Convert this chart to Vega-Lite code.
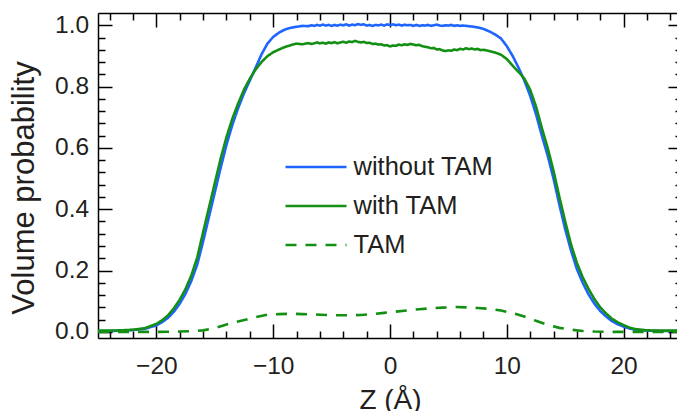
{
  "$schema": "https://vega.github.io/schema/vega-lite/v6.json",
  "autosize": "none",
  "width": 584,
  "height": 325,
  "padding": {"left": 98, "top": 13, "right": -5, "bottom": 73},
  "background": "white",
  "config": {
    "view": {"stroke": null},
    "font": "Liberation Sans",
    "axis": {
      "grid": false,
      "domainColor": "#000000",
      "tickColor": "#000000",
      "domainWidth": 1.5,
      "tickWidth": 1.5,
      "labelColor": "#231f20",
      "titleColor": "#231f20",
      "labelFont": "Liberation Sans",
      "titleFont": "Liberation Sans",
      "titleFontWeight": "normal"
    }
  },
  "data": {"values": [
    {"s":"without TAM","z":-25,"v":0.003},{"s":"without TAM","z":-24,"v":0.003},{"s":"without TAM","z":-23,"v":0.004},{"s":"without TAM","z":-22,"v":0.006},{"s":"without TAM","z":-21,"v":0.01},{"s":"without TAM","z":-20,"v":0.021},{"s":"without TAM","z":-19.5,"v":0.032},{"s":"without TAM","z":-19,"v":0.046},{"s":"without TAM","z":-18.5,"v":0.066},{"s":"without TAM","z":-18,"v":0.092},{"s":"without TAM","z":-17.5,"v":0.125},{"s":"without TAM","z":-17,"v":0.167},{"s":"without TAM","z":-16.5,"v":0.22},{"s":"without TAM","z":-16,"v":0.295},{"s":"without TAM","z":-15.5,"v":0.375},{"s":"without TAM","z":-15,"v":0.455},{"s":"without TAM","z":-14.5,"v":0.535},{"s":"without TAM","z":-14,"v":0.61},{"s":"without TAM","z":-13.5,"v":0.675},{"s":"without TAM","z":-13,"v":0.73},{"s":"without TAM","z":-12.5,"v":0.778},{"s":"without TAM","z":-12,"v":0.82},{"s":"without TAM","z":-11.5,"v":0.862},{"s":"without TAM","z":-11,"v":0.905},{"s":"without TAM","z":-10.5,"v":0.94},{"s":"without TAM","z":-10,"v":0.962},{"s":"without TAM","z":-9.5,"v":0.976},{"s":"without TAM","z":-9,"v":0.986},{"s":"without TAM","z":-8.5,"v":0.992},{"s":"without TAM","z":-8,"v":0.995},{"s":"without TAM","z":-7.5,"v":0.998},
    {"s":"without TAM","z":-7,"v":0.997},{"s":"without TAM","z":-6.75,"v":1.0},{"s":"without TAM","z":-6.5,"v":0.998},{"s":"without TAM","z":-6.25,"v":1.001},{"s":"without TAM","z":-6,"v":0.999},{"s":"without TAM","z":-5.75,"v":1.002},{"s":"without TAM","z":-5.5,"v":0.999},{"s":"without TAM","z":-5.25,"v":1.001},{"s":"without TAM","z":-5,"v":0.998},{"s":"without TAM","z":-4.75,"v":1.001},{"s":"without TAM","z":-4.5,"v":0.999},{"s":"without TAM","z":-4.25,"v":1.002},{"s":"without TAM","z":-4,"v":1.0},{"s":"without TAM","z":-3.75,"v":1.003},{"s":"without TAM","z":-3.5,"v":0.999},{"s":"without TAM","z":-3.25,"v":1.002},{"s":"without TAM","z":-3,"v":1.0},{"s":"without TAM","z":-2.75,"v":1.004},{"s":"without TAM","z":-2.5,"v":1.001},{"s":"without TAM","z":-2.25,"v":1.003},{"s":"without TAM","z":-2,"v":0.999},{"s":"without TAM","z":-1.75,"v":1.001},{"s":"without TAM","z":-1.5,"v":0.998},{"s":"without TAM","z":-1.25,"v":1.001},{"s":"without TAM","z":-1,"v":1.0},{"s":"without TAM","z":-0.75,"v":1.002},{"s":"without TAM","z":-0.5,"v":0.999},{"s":"without TAM","z":-0.25,"v":1.003},{"s":"without TAM","z":0,"v":1.001},{"s":"without TAM","z":0.25,"v":1.003},{"s":"without TAM","z":0.5,"v":1.0},{"s":"without TAM","z":0.75,"v":1.002},{"s":"without TAM","z":1,"v":0.999},{"s":"without TAM","z":1.25,"v":1.002},{"s":"without TAM","z":1.5,"v":1.0},{"s":"without TAM","z":1.75,"v":1.001},{"s":"without TAM","z":2,"v":0.998},{"s":"without TAM","z":2.25,"v":1.001},{"s":"without TAM","z":2.5,"v":0.998},{"s":"without TAM","z":2.75,"v":1.0},{"s":"without TAM","z":3,"v":0.999},{"s":"without TAM","z":3.25,"v":1.001},{"s":"without TAM","z":3.5,"v":0.998},{"s":"without TAM","z":3.75,"v":1.0},{"s":"without TAM","z":4,"v":1.002},{"s":"without TAM","z":4.25,"v":0.999},{"s":"without TAM","z":4.5,"v":0.998},{"s":"without TAM","z":4.75,"v":1.0},{"s":"without TAM","z":5,"v":0.999},{"s":"without TAM","z":5.25,"v":1.001},{"s":"without TAM","z":5.5,"v":0.998},{"s":"without TAM","z":5.75,"v":1.0},{"s":"without TAM","z":6,"v":0.998},{"s":"without TAM","z":6.25,"v":0.999},{"s":"without TAM","z":6.5,"v":0.998},{"s":"without TAM","z":6.75,"v":0.997},{"s":"without TAM","z":7,"v":0.996},
    {"s":"without TAM","z":7.5,"v":0.993},{"s":"without TAM","z":8,"v":0.988},{"s":"without TAM","z":8.5,"v":0.98},{"s":"without TAM","z":9,"v":0.97},{"s":"without TAM","z":9.5,"v":0.957},{"s":"without TAM","z":10,"v":0.932},{"s":"without TAM","z":10.5,"v":0.9},{"s":"without TAM","z":11,"v":0.862},{"s":"without TAM","z":11.5,"v":0.82},{"s":"without TAM","z":12,"v":0.77},{"s":"without TAM","z":12.5,"v":0.71},{"s":"without TAM","z":13,"v":0.64},{"s":"without TAM","z":13.5,"v":0.575},{"s":"without TAM","z":14,"v":0.5},{"s":"without TAM","z":14.5,"v":0.415},{"s":"without TAM","z":15,"v":0.335},{"s":"without TAM","z":15.5,"v":0.265},{"s":"without TAM","z":16,"v":0.205},{"s":"without TAM","z":16.5,"v":0.16},{"s":"without TAM","z":17,"v":0.122},{"s":"without TAM","z":17.5,"v":0.092},{"s":"without TAM","z":18,"v":0.068},{"s":"without TAM","z":18.5,"v":0.05},{"s":"without TAM","z":19,"v":0.035},{"s":"without TAM","z":19.5,"v":0.025},{"s":"without TAM","z":20,"v":0.017},{"s":"without TAM","z":20.5,"v":0.011},{"s":"without TAM","z":21,"v":0.007},{"s":"without TAM","z":22,"v":0.004},{"s":"without TAM","z":23,"v":0.003},{"s":"without TAM","z":24,"v":0.003},{"s":"without TAM","z":25,"v":0.003},
    {"s":"with TAM","z":-25,"v":0.004},{"s":"with TAM","z":-24,"v":0.004},{"s":"with TAM","z":-23,"v":0.005},{"s":"with TAM","z":-22,"v":0.007},{"s":"with TAM","z":-21,"v":0.012},{"s":"with TAM","z":-20,"v":0.026},{"s":"with TAM","z":-19.5,"v":0.038},{"s":"with TAM","z":-19,"v":0.054},{"s":"with TAM","z":-18.5,"v":0.077},{"s":"with TAM","z":-18,"v":0.105},{"s":"with TAM","z":-17.5,"v":0.14},{"s":"with TAM","z":-17,"v":0.185},{"s":"with TAM","z":-16.5,"v":0.243},{"s":"with TAM","z":-16,"v":0.325},{"s":"with TAM","z":-15.5,"v":0.405},{"s":"with TAM","z":-15,"v":0.485},{"s":"with TAM","z":-14.5,"v":0.565},{"s":"with TAM","z":-14,"v":0.635},{"s":"with TAM","z":-13.5,"v":0.695},{"s":"with TAM","z":-13,"v":0.745},{"s":"with TAM","z":-12.5,"v":0.79},{"s":"with TAM","z":-12,"v":0.826},{"s":"with TAM","z":-11.5,"v":0.856},{"s":"with TAM","z":-11,"v":0.88},{"s":"with TAM","z":-10.5,"v":0.899},{"s":"with TAM","z":-10,"v":0.912},{"s":"with TAM","z":-9.5,"v":0.921},{"s":"with TAM","z":-9,"v":0.929},{"s":"with TAM","z":-8.5,"v":0.935},{"s":"with TAM","z":-8,"v":0.94},{"s":"with TAM","z":-7.5,"v":0.938},
    {"s":"with TAM","z":-7,"v":0.942},{"s":"with TAM","z":-6.75,"v":0.939},{"s":"with TAM","z":-6.5,"v":0.941},{"s":"with TAM","z":-6.25,"v":0.944},{"s":"with TAM","z":-6,"v":0.941},{"s":"with TAM","z":-5.75,"v":0.943},{"s":"with TAM","z":-5.5,"v":0.94},{"s":"with TAM","z":-5.25,"v":0.944},{"s":"with TAM","z":-5,"v":0.942},{"s":"with TAM","z":-4.75,"v":0.945},{"s":"with TAM","z":-4.5,"v":0.941},{"s":"with TAM","z":-4.25,"v":0.944},{"s":"with TAM","z":-4,"v":0.946},{"s":"with TAM","z":-3.75,"v":0.943},{"s":"with TAM","z":-3.5,"v":0.947},{"s":"with TAM","z":-3.25,"v":0.945},{"s":"with TAM","z":-3,"v":0.949},{"s":"with TAM","z":-2.75,"v":0.946},{"s":"with TAM","z":-2.5,"v":0.944},{"s":"with TAM","z":-2.25,"v":0.946},{"s":"with TAM","z":-2,"v":0.942},{"s":"with TAM","z":-1.75,"v":0.943},{"s":"with TAM","z":-1.5,"v":0.939},{"s":"with TAM","z":-1.25,"v":0.94},{"s":"with TAM","z":-1,"v":0.937},{"s":"with TAM","z":-0.75,"v":0.938},{"s":"with TAM","z":-0.5,"v":0.934},{"s":"with TAM","z":-0.25,"v":0.935},{"s":"with TAM","z":0,"v":0.931},{"s":"with TAM","z":0.25,"v":0.934},{"s":"with TAM","z":0.5,"v":0.933},{"s":"with TAM","z":0.75,"v":0.937},{"s":"with TAM","z":1,"v":0.935},{"s":"with TAM","z":1.25,"v":0.938},{"s":"with TAM","z":1.5,"v":0.936},{"s":"with TAM","z":1.75,"v":0.939},{"s":"with TAM","z":2,"v":0.937},{"s":"with TAM","z":2.25,"v":0.935},{"s":"with TAM","z":2.5,"v":0.936},{"s":"with TAM","z":2.75,"v":0.932},{"s":"with TAM","z":3,"v":0.93},{"s":"with TAM","z":3.25,"v":0.928},{"s":"with TAM","z":3.5,"v":0.925},{"s":"with TAM","z":3.75,"v":0.926},{"s":"with TAM","z":4,"v":0.921},{"s":"with TAM","z":4.25,"v":0.922},{"s":"with TAM","z":4.5,"v":0.918},{"s":"with TAM","z":4.75,"v":0.916},{"s":"with TAM","z":5,"v":0.918},{"s":"with TAM","z":5.25,"v":0.917},{"s":"with TAM","z":5.5,"v":0.921},{"s":"with TAM","z":5.75,"v":0.919},{"s":"with TAM","z":6,"v":0.923},{"s":"with TAM","z":6.25,"v":0.921},{"s":"with TAM","z":6.5,"v":0.925},{"s":"with TAM","z":6.75,"v":0.922},{"s":"with TAM","z":7,"v":0.924},{"s":"with TAM","z":7.25,"v":0.921},{"s":"with TAM","z":7.5,"v":0.923},{"s":"with TAM","z":7.75,"v":0.919},{"s":"with TAM","z":8,"v":0.92},
    {"s":"with TAM","z":8.5,"v":0.916},{"s":"with TAM","z":9,"v":0.911},{"s":"with TAM","z":9.5,"v":0.904},{"s":"with TAM","z":10,"v":0.89},{"s":"with TAM","z":10.5,"v":0.868},{"s":"with TAM","z":11,"v":0.848},{"s":"with TAM","z":11.5,"v":0.826},{"s":"with TAM","z":12,"v":0.79},{"s":"with TAM","z":12.5,"v":0.735},{"s":"with TAM","z":13,"v":0.665},{"s":"with TAM","z":13.5,"v":0.6},{"s":"with TAM","z":14,"v":0.525},{"s":"with TAM","z":14.5,"v":0.44},{"s":"with TAM","z":15,"v":0.36},{"s":"with TAM","z":15.5,"v":0.285},{"s":"with TAM","z":16,"v":0.225},{"s":"with TAM","z":16.5,"v":0.178},{"s":"with TAM","z":17,"v":0.14},{"s":"with TAM","z":17.5,"v":0.107},{"s":"with TAM","z":18,"v":0.08},{"s":"with TAM","z":18.5,"v":0.06},{"s":"with TAM","z":19,"v":0.043},{"s":"with TAM","z":19.5,"v":0.031},{"s":"with TAM","z":20,"v":0.022},{"s":"with TAM","z":20.5,"v":0.014},{"s":"with TAM","z":21,"v":0.009},{"s":"with TAM","z":22,"v":0.005},{"s":"with TAM","z":23,"v":0.004},{"s":"with TAM","z":24,"v":0.004},{"s":"with TAM","z":25,"v":0.004},
    {"s":"TAM","z":-25,"v":0.0},{"s":"TAM","z":-22,"v":0.0},{"s":"TAM","z":-20,"v":0.0},{"s":"TAM","z":-18,"v":0.001},{"s":"TAM","z":-17,"v":0.002},{"s":"TAM","z":-16,"v":0.005},{"s":"TAM","z":-15,"v":0.012},{"s":"TAM","z":-14,"v":0.024},{"s":"TAM","z":-13,"v":0.034},{"s":"TAM","z":-12.3,"v":0.04},{"s":"TAM","z":-11.5,"v":0.048},{"s":"TAM","z":-10.5,"v":0.056},{"s":"TAM","z":-9.5,"v":0.058},{"s":"TAM","z":-8.5,"v":0.059},{"s":"TAM","z":-7.5,"v":0.058},{"s":"TAM","z":-6.5,"v":0.057},{"s":"TAM","z":-5.5,"v":0.055},{"s":"TAM","z":-4.5,"v":0.054},{"s":"TAM","z":-3.5,"v":0.054},{"s":"TAM","z":-2.5,"v":0.055},{"s":"TAM","z":-1.5,"v":0.058},{"s":"TAM","z":-0.5,"v":0.062},{"s":"TAM","z":0.5,"v":0.066},{"s":"TAM","z":1.5,"v":0.07},{"s":"TAM","z":2.5,"v":0.074},{"s":"TAM","z":3.5,"v":0.077},{"s":"TAM","z":4.5,"v":0.079},{"s":"TAM","z":5.5,"v":0.081},{"s":"TAM","z":6.5,"v":0.08},{"s":"TAM","z":7.5,"v":0.078},{"s":"TAM","z":8.5,"v":0.075},{"s":"TAM","z":9.5,"v":0.07},{"s":"TAM","z":10.5,"v":0.061},{"s":"TAM","z":11.5,"v":0.05},{"s":"TAM","z":12.5,"v":0.036},{"s":"TAM","z":13.5,"v":0.023},{"s":"TAM","z":14.5,"v":0.013},{"s":"TAM","z":15.5,"v":0.007},{"s":"TAM","z":16.5,"v":0.003},{"s":"TAM","z":17.5,"v":0.001},{"s":"TAM","z":19,"v":0.0},{"s":"TAM","z":22,"v":0.0},{"s":"TAM","z":25,"v":0.0}
  ]},
  "resolve": {"axis": {"x": "independent", "y": "independent"}},
  "layer": [
    {
      "mark": {"type": "line", "strokeWidth": 2.6},
      "encoding": {
        "x": {"field": "z", "type": "quantitative",
          "scale": {"domain": [-25, 25], "nice": false, "zero": false},
          "axis": {"orient": "bottom", "values": [-20, -10, 0, 10, 20], "tickSize": -14, "labelPadding": 30, "labelFontSize": 24.5,
            "title": "Z (Å)", "titleFontSize": 28, "titleY": 70.5, "titleBaseline": "alphabetic", "titleAlign": "center"}},
        "y": {"field": "v", "type": "quantitative",
          "scale": {"domain": [-0.02, 1.04], "nice": false, "zero": false},
          "axis": {"orient": "left", "values": [0, 0.2, 0.4, 0.6, 0.8, 1.0], "format": ".1f", "tickSize": -14, "labelPadding": 23.4, "labelFontSize": 24.5,
            "title": "Volume probability", "titleFontSize": 31, "titleX": -64.7, "titleY": 174.5, "titleBaseline": "alphabetic", "titleAlign": "center", "titleAngle": -90}},
        "color": {"field": "s", "type": "nominal",
          "scale": {"domain": ["without TAM", "with TAM", "TAM"], "range": ["#1e64ff", "#139013", "#139013"]},
          "legend": {"orient": "none", "legendX": 186, "legendY": 144, "title": null, "symbolType": "stroke", "symbolSize": 3721, "symbolStrokeWidth": 2.6, "labelFontSize": 25.5, "labelColor": "#231f20", "labelOffset": 5.5, "clipHeight": 20, "rowPadding": 13, "padding": 0}},
        "strokeDash": {"field": "s", "type": "nominal",
          "scale": {"domain": ["without TAM", "with TAM", "TAM"], "range": [[1, 0], [1, 0], [11, 9]]},
          "legend": {"orient": "none", "legendX": 186, "legendY": 144, "title": null, "symbolType": "stroke", "symbolSize": 3721, "symbolStrokeWidth": 2.6, "labelFontSize": 25.5, "labelColor": "#231f20", "labelOffset": 5.5, "clipHeight": 20, "rowPadding": 13, "padding": 0}}
      }
    },
    {
      "mark": {"type": "point", "opacity": 0},
      "encoding": {
        "x": {"field": "z", "type": "quantitative", "axis": {"orient": "bottom", "values": [-24, -22, -18, -16, -14, -12, -8, -6, -4, -2, 2, 4, 6, 8, 12, 14, 16, 18, 22, 24], "tickSize": -7, "labels": false, "domain": false, "title": null}},
        "y": {"field": "v", "type": "quantitative", "axis": {"orient": "left", "values": [0.04, 0.08, 0.12, 0.16, 0.24, 0.28, 0.32, 0.36, 0.44, 0.48, 0.52, 0.56, 0.64, 0.68, 0.72, 0.76, 0.84, 0.88, 0.92, 0.96], "tickSize": -7, "labels": false, "domain": false, "title": null}}
      }
    },
    {
      "mark": {"type": "point", "opacity": 0},
      "encoding": {
        "x": {"field": "z", "type": "quantitative", "axis": {"orient": "top", "values": [-20, -10, 0, 10, 20], "tickSize": -14, "labels": false, "domain": true, "title": null}},
        "y": {"field": "v", "type": "quantitative", "axis": {"orient": "right", "values": [0, 0.2, 0.4, 0.6, 0.8, 1.0], "tickSize": -14, "labels": false, "domain": true, "title": null}}
      }
    },
    {
      "mark": {"type": "point", "opacity": 0},
      "encoding": {
        "x": {"field": "z", "type": "quantitative", "axis": {"orient": "top", "values": [-24, -22, -18, -16, -14, -12, -8, -6, -4, -2, 2, 4, 6, 8, 12, 14, 16, 18, 22, 24], "tickSize": -7, "labels": false, "domain": false, "title": null}},
        "y": {"field": "v", "type": "quantitative", "axis": {"orient": "right", "values": [0.04, 0.08, 0.12, 0.16, 0.24, 0.28, 0.32, 0.36, 0.44, 0.48, 0.52, 0.56, 0.64, 0.68, 0.72, 0.76, 0.84, 0.88, 0.92, 0.96], "tickSize": -7, "labels": false, "domain": false, "title": null}}
      }
    }
  ]
}
